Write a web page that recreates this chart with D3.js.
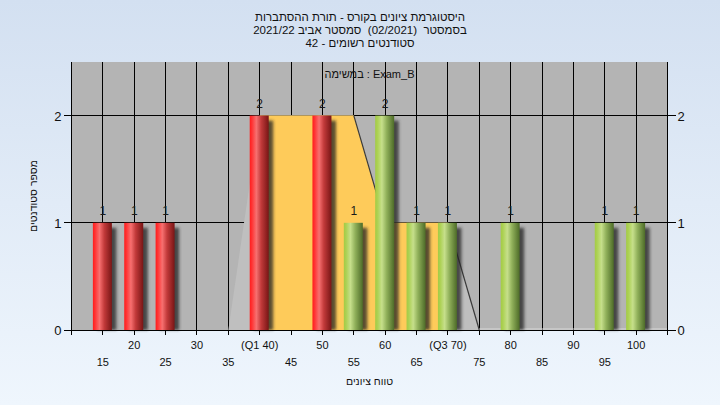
<!DOCTYPE html>
<html><head><meta charset="utf-8">
<script src="https://cdn.jsdelivr.net/npm/d3@7"></script>
<style>html,body{margin:0;padding:0;}svg{display:block;} text.pre{white-space:pre;}</style>
</head><body>
<script>
// ---- data ----
const scores = [15,20,25,30,35,40,45,50,55,60,65,70,75,80,85,90,95,100];
const counts = [1,1,1,0,0,2,0,2,1,2,1,1,0,1,0,0,1,1];
const barGroup = ["low","low","low","low","low","low","low","low","high","high","high","high","high","high","high","high","high","high"];
const tickLabels = ["15","20","25","30","35","(Q1 40)","45","50","55","60","65","(Q3 70)","75","80","85","90","95","100"];
const areaScores = [10,15,20,25,30,35,40,45,50,55,60,65,70,75,80,85,90,95,100,105];
const areaValues = [0,0,0,0,0,0,2,2,2,2,1,1,1,0,0,0,0,0,0,0];
const q1 = 40, q3 = 70;
const yTicks = [0,1,2];
const titleLines = ["היסטוגרמת ציונים בקורס - תורת ההסתברות",
  "בסמסטר  (02/2021)  סמסטר אביב 2021/22",
  "סטודנטים רשומים - 42"];
const subTitle = "במשימה : Exam_B";
const xTitle = "טווח ציונים";
const yTitle = "מספר סטודנטים";

const W = 720, H = 405;
const svg = d3.select("body").append("svg").attr("width", W).attr("height", H);
const defs = svg.append("defs");

const bg = defs.append("linearGradient").attr("id","bg").attr("x1",0).attr("y1",0).attr("x2",0).attr("y2",1);
bg.append("stop").attr("offset","0%").attr("stop-color","#d3e0f1");
bg.append("stop").attr("offset","100%").attr("stop-color","#eff6fd");
svg.append("rect").attr("width",W).attr("height",H).attr("fill","url(#bg)");

function cyl(id, stops){
  const g = defs.append("linearGradient").attr("id",id).attr("x1",0).attr("y1",0).attr("x2",1).attr("y2",0);
  stops.forEach(s=>g.append("stop").attr("offset",s[0]).attr("stop-color",s[1]));
}
cyl("gLow", [["0%","#ff1c1c"],["12%","#ff3434"],["35%","#f77070"],["60%","#c23a3a"],["100%","#781515"]]);
cyl("gHigh",[["0%","#a3cb45"],["12%","#acd153"],["35%","#c6df8b"],["60%","#90b05a"],["100%","#4d6b28"]]);
const blur = defs.append("filter").attr("id","blur").attr("x","-50%").attr("y","-10%").attr("width","200%").attr("height","120%");
blur.append("feGaussianBlur").attr("stdDeviation",1.6);

const x = d3.scaleLinear().domain([10,105]).range([71.5,667.5]);
const y = d3.scaleLinear().domain([0,2.5]).range([330,62]);
const x0 = x.range()[0], x1 = x.range()[1];

// plot background
svg.append("rect").attr("x",x0).attr("y",y(2.5)).attr("width",x1-x0).attr("height",y(0)-y(2.5)).attr("fill","#b4b4b4");

// grid
const grid = svg.append("g").attr("stroke","#000").attr("stroke-width",1).attr("shape-rendering","crispEdges");
grid.selectAll("line.v").data(d3.range(10,105,5)).join("line")
  .attr("x1",d=>x(d)).attr("x2",d=>x(d)).attr("y1",y(2.5)).attr("y2",y(0));
grid.selectAll("line.h").data(yTicks.filter(d=>d>0)).join("line").attr("class","h")
  .attr("x1",x0).attr("x2",x1).attr("y1",d=>y(d)).attr("y2",d=>y(d));

// distribution area
const pts = areaScores.map((s,i)=>[s,areaValues[i]]);
const area = d3.area().x(d=>x(d[0])).y0(y(0)).y1(d=>y(d[1]));
svg.append("path").attr("d",area(pts)).attr("fill","#bfbfbf");
defs.append("clipPath").attr("id","iqr").append("rect")
  .attr("x",x(q1)).attr("y",0).attr("width",x(q3)-x(q1)).attr("height",H);
svg.append("path").attr("d",area(pts)).attr("fill","#fecb5a").attr("clip-path","url(#iqr)");
// outline on descending segments
const segs = [];
for(let i=1;i<pts.length;i++){ if(pts[i][1] < pts[i-1][1]) segs.push([pts[i-1],pts[i]]); }
const line = d3.line().x(d=>x(d[0])).y(d=>y(d[1]));
svg.append("g").selectAll("path").data(segs).join("path").attr("d",d=>line(d))
  .attr("fill","none").attr("stroke","#3a3a3a").attr("stroke-width",1.2);
svg.append("path").attr("d",line(pts.filter(p=>p[0]>=75))).attr("fill","none").attr("stroke","#d8d8d8").attr("stroke-width",1).attr("transform","translate(0,-1)");

// bars
const bw = 19;
const bars = scores.map((s,i)=>({s, c:counts[i], g:barGroup[i]})).filter(d=>d.c>0);
svg.append("g").selectAll("rect").data(bars).join("rect")
  .attr("x",d=>x(d.s)-bw/2+4).attr("y",d=>y(d.c)+5).attr("width",bw).attr("height",d=>y(0)-y(d.c)-5)
  .attr("fill","#202020").attr("opacity",0.75).attr("filter","url(#blur)");
svg.append("g").selectAll("rect").data(bars).join("rect")
  .attr("x",d=>x(d.s)-bw/2-0.5).attr("y",d=>y(d.c)).attr("width",bw).attr("height",d=>y(0)-y(d.c))
  .attr("fill",d=>d.g==="low"?"url(#gLow)":"url(#gHigh)");
svg.append("g").selectAll("text").data(bars).join("text")
  .attr("x",d=>x(d.s)).attr("y",d=>y(d.c)-8).attr("text-anchor","middle")
  .attr("font-family","Liberation Sans, Arial, sans-serif").attr("font-size",12).attr("fill","#1a1a1a")
  .text(d=>d.c);

// axes
const ax = svg.append("g").attr("stroke","#000").attr("stroke-width",1).attr("shape-rendering","crispEdges");
ax.append("line").attr("x1",x0).attr("x2",x0).attr("y1",y(2.5)).attr("y2",y(0)+5);
ax.append("line").attr("x1",x1).attr("x2",x1).attr("y1",y(2.5)).attr("y2",y(0)+5);
ax.append("line").attr("x1",x0-7).attr("x2",x1+7).attr("y1",y(0)).attr("y2",y(0));
ax.selectAll("line.tl").data(yTicks).join("line").attr("class","tl")
  .attr("x1",x0-8).attr("x2",x0).attr("y1",d=>y(d)).attr("y2",d=>y(d));
ax.selectAll("line.tr").data(yTicks).join("line").attr("class","tr")
  .attr("x1",x1).attr("x2",x1+8).attr("y1",d=>y(d)).attr("y2",d=>y(d));
ax.selectAll("line.tb").data(d3.range(10,110,5)).join("line").attr("class","tb")
  .attr("x1",d=>x(d)).attr("x2",d=>x(d)).attr("y1",y(0)).attr("y2",y(0)+5);

const font = "Liberation Sans, Arial, sans-serif";
svg.append("g").selectAll("text").data(yTicks).join("text")
  .attr("x",x0-10).attr("y",d=>y(d)+5).attr("text-anchor","end")
  .attr("font-family",font).attr("font-size",13).attr("fill","#111").text(d=>d);
svg.append("g").selectAll("text").data(yTicks).join("text")
  .attr("x",x1+10).attr("y",d=>y(d)+5).attr("text-anchor","start")
  .attr("font-family",font).attr("font-size",13).attr("fill","#111").text(d=>d);

svg.append("g").selectAll("text").data(scores).join("text")
  .attr("x",d=>x(d)).attr("y",(d,i)=> (d%10===0) ? 349 : 366).attr("text-anchor","middle")
  .attr("direction","ltr").attr("unicode-bidi","embed")
  .attr("font-family",font).attr("font-size",11).attr("fill","#111")
  .text((d,i)=>tickLabels[i]);

// titles
svg.append("g").selectAll("text").data(titleLines).join("text").attr("class","pre")
  .attr("x",360).attr("y",(d,i)=>21+i*13).attr("text-anchor","middle")
  .attr("font-family",font).attr("font-size",11.5).attr("fill","#111").text(d=>d);
svg.append("text").attr("x",(x0+x1)/2).attr("y",78).attr("text-anchor","middle")
  .attr("font-family",font).attr("font-size",11).attr("fill","#111").text(subTitle);
svg.append("text").attr("x",(x0+x1)/2).attr("y",385).attr("text-anchor","middle")
  .attr("font-family",font).attr("font-size",10.5).attr("fill","#111").text(xTitle);
svg.append("text").attr("transform",`translate(37,${(y(0)+y(2.5))/2}) rotate(-90)`).attr("text-anchor","middle")
  .attr("font-family",font).attr("font-size",10.5).attr("fill","#111").text(yTitle);
</script>
</body></html>
